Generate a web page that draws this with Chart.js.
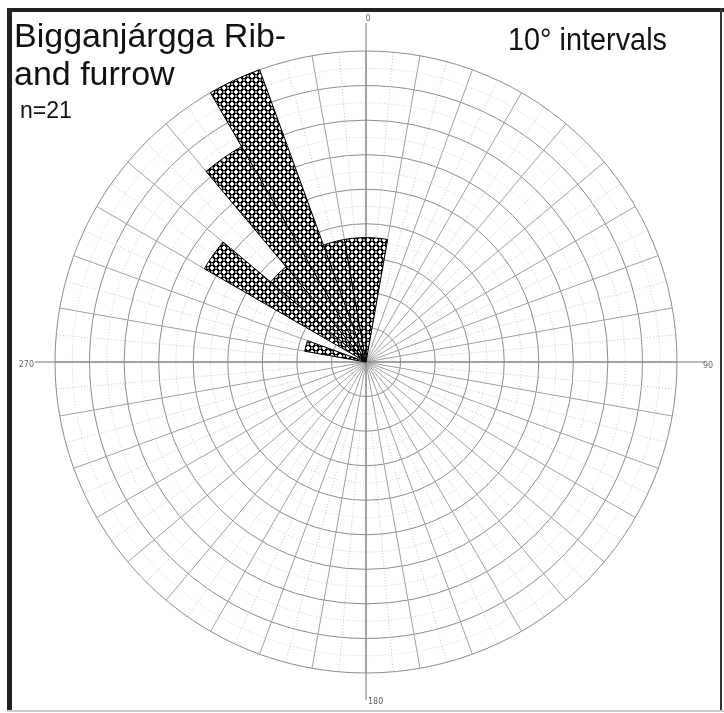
<!DOCTYPE html>
<html><head><meta charset="utf-8">
<script src="https://cdn.jsdelivr.net/npm/chart.js@4/dist/chart.umd.min.js"></script>
<style>
html,body{margin:0;padding:0;background:#fff;}
#wrap{position:relative;width:724px;height:713px;overflow:hidden;font-family:"Liberation Sans",Arial,sans-serif;}
#c{position:absolute;left:0;top:0;width:724px;height:713px;}
.t{position:absolute;white-space:nowrap;color:#111;transform-origin:0 0;}
.f{position:absolute;}
</style></head><body>
<div id="wrap">
<canvas id="c" width="724" height="713"></canvas>
<div class="t" style="left:14px;top:16px;font-size:34px;line-height:38px;">Bigganjárgga Rib-<br>and furrow</div>
<div class="t" style="left:20px;top:99px;font-size:23px;line-height:23px;">n=21</div>
<div class="t" style="left:508px;top:24px;font-size:31px;line-height:31px;transform:scaleX(0.93);">10° intervals</div>
<div class="f" style="left:7px;top:8px;width:717px;height:4px;background:#222;"></div>
<div class="f" style="left:7px;top:8px;width:5px;height:702px;background:#222;"></div>
<div class="f" style="left:720px;top:8px;width:2px;height:702px;background:#333;"></div>
<div class="f" style="left:7px;top:710px;width:717px;height:2px;background:#ccc;"></div>
</div>
<script>
// 10° azimuth classes, clockwise from north
const sectorLabels = [
  "0-10","10-20","20-30","30-40","40-50","50-60","60-70","70-80","80-90",
  "90-100","100-110","110-120","120-130","130-140","140-150","150-160","160-170","170-180",
  "180-190","190-200","200-210","210-220","220-230","230-240","240-250","250-260","260-270",
  "270-280","280-290","290-300","300-310","310-320","320-330","330-340","340-350","350-360"
];
const sectorCounts = [
  2,0,0,0,0,0,0,0,0,
  0,0,0,0,0,0,0,0,0,
  0,0,0,0,0,0,0,0,0,
  0,1,0,3,2,4,5,2,2
];
const compassLabels = ["0","90","180","270"];
const scaleMax = 5;
const ringDivisions = 18; // 9 solid rings with dotted rings between

function makePattern() {
  const s = 8;
  const c = document.createElement('canvas');
  c.width = s; c.height = s;
  const g = c.getContext('2d');
  g.fillStyle = '#fff'; g.fillRect(0,0,s,s);
  g.strokeStyle = '#000'; g.lineWidth = 1.1;
  const r = 2.75;
  [[0,0],[s,0],[0,s],[s,s],[s/2,s/2]].forEach(([x,y]) => {
    g.beginPath(); g.arc(x,y,r,0,Math.PI*2); g.stroke();
  });
  g.fillStyle = '#000';
  [[2,2],[6,2],[2,6],[6,6]].forEach(([x,y]) => {
    g.beginPath(); g.arc(x,y,1.2,0,Math.PI*2); g.fill();
  });
  return g.createPattern(c,'repeat');
}

const compassPlugin = {
  id: 'compass',
  beforeDatasetsDraw(chart) {
    const s = chart.scales.r, ctx = chart.ctx;
    const R = s.drawingArea, cx = s.xCenter, cy = s.yCenter;
    ctx.save();
    // dotted 5° radial lines in outer rings
    ctx.strokeStyle = '#c4c4c4'; ctx.lineWidth = 1; ctx.setLineDash([1,2]);
    const r0 = s.getDistanceFromCenterForValue(scaleMax * 2 / 9);
    for (let k = 0; k < sectorLabels.length; k++) {
      const p0 = s.getPointPosition(k + 0.5, r0);
      const p1 = s.getPointPosition(k + 0.5, R);
      ctx.beginPath(); ctx.moveTo(p0.x,p0.y); ctx.lineTo(p1.x,p1.y); ctx.stroke();
    }
    // main axes extended beyond the circle
    ctx.setLineDash([]);
    ctx.strokeStyle = '#777';
    const ext = [R+28, R+28, R+27, R+20];
    [0,9,18,27].forEach((idx,i) => {
      const p = s.getPointPosition(idx, ext[i]);
      ctx.beginPath(); ctx.moveTo(cx,cy); ctx.lineTo(p.x,p.y); ctx.stroke();
    });
    ctx.fillStyle = '#666';
    ctx.font = '8px "DejaVu Sans", sans-serif';
    ctx.textBaseline = 'middle';
    ctx.textAlign = 'center'; ctx.fillText(compassLabels[0], cx+2, cy-R-32);
    ctx.textAlign = 'left'; ctx.fillText(compassLabels[1], cx+R+26, cy+4);
    ctx.textAlign = 'left'; ctx.fillText(compassLabels[2], cx+2, cy+R+29);
    ctx.textAlign = 'right'; ctx.fillText(compassLabels[3], cx-R-21, cy+3);
    ctx.restore();
  }
};

const hatch = makePattern();
new Chart(document.getElementById('c'), {
  type: 'polarArea',
  data: {
    labels: sectorLabels,
    datasets: [{
      data: sectorCounts,
      backgroundColor: hatch,
      borderColor: '#000',
      borderWidth: ctx => (ctx.raw > 0 ? 1 : 0)
    }]
  },
  options: {
    responsive: false,
    animation: false,
    layout: { padding: { left: 55, top: 51, right: 47, bottom: 40 } },
    plugins: { legend: { display: false }, tooltip: { enabled: false } },
    scales: {
      r: {
        min: 0, max: scaleMax, startAngle: 0,
        afterBuildTicks: sc => {
          const t = [];
          for (let i = 0; i <= ringDivisions; i++) t.push({ value: scaleMax * i / ringDivisions });
          sc.ticks = t;
        },
        ticks: { display: false },
        pointLabels: { display: false },
        grid: {
          circular: true,
          color: c => (c.index % 2 === 0 ? '#8c8c8c' : '#c8c8c8'),
          lineWidth: 1
        },
        border: { dash: c => (c.index % 2 === 0 ? [] : [1,2]) },
        angleLines: {
          display: true,
          color: '#a0a0a0',
          lineWidth: 1
        }
      }
    }
  },
  plugins: [compassPlugin]
});
</script>
</body></html>
